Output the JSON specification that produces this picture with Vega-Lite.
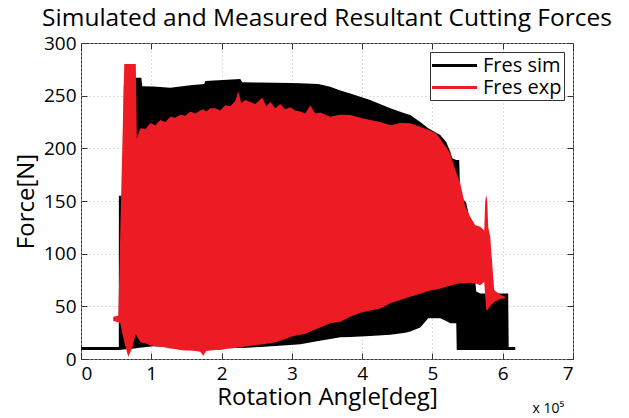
{
  "$schema": "https://vega.github.io/schema/vega-lite/v6.json",
  "autosize": {"type": "none"},
  "padding": {"left": 81, "top": 43, "right": 56, "bottom": 59},
  "width": 492,
  "height": 316,
  "background": "white",
  "title": {"text": "Simulated and Measured Resultant Cutting Forces", "font": "Open Sans", "fontSize": 24.5, "fontWeight": "normal", "color": "black", "anchor": "middle", "frame": "group", "baseline": "alphabetic", "offset": 16, "dy": 32},
  "config": {
    "view": {"stroke": "#333", "strokeWidth": 1},
    "axis": {"labelFont": "Open Sans", "titleFont": "Open Sans", "labelColor": "black", "titleColor": "black", "titleFontWeight": "normal", "domain": false, "tickColor": "#333", "grid": true, "gridColor": "#bbbbbb", "gridDash": [1, 3], "gridWidth": 1}
  },
  "data": {"values": [
    {"series": "Fres sim", "angle": 0, "lo": 8.5, "hi": 11.5},
    {"series": "Fres sim", "angle": 53800, "lo": 8.5, "hi": 11.5},
    {"series": "Fres sim", "angle": 53900, "lo": 8.5, "hi": 155},
    {"series": "Fres sim", "angle": 60200, "lo": 9, "hi": 155},
    {"series": "Fres sim", "angle": 60900, "lo": 9, "hi": 260},
    {"series": "Fres sim", "angle": 75800, "lo": 10, "hi": 267},
    {"series": "Fres sim", "angle": 85800, "lo": 11, "hi": 267},
    {"series": "Fres sim", "angle": 87200, "lo": 11, "hi": 259},
    {"series": "Fres sim", "angle": 102800, "lo": 12, "hi": 258.6},
    {"series": "Fres sim", "angle": 127000, "lo": 11.5, "hi": 257.6},
    {"series": "Fres sim", "angle": 155500, "lo": 11, "hi": 260},
    {"series": "Fres sim", "angle": 175400, "lo": 11, "hi": 261},
    {"series": "Fres sim", "angle": 176800, "lo": 11, "hi": 264},
    {"series": "Fres sim", "angle": 226600, "lo": 10.5, "hi": 265.8},
    {"series": "Fres sim", "angle": 229500, "lo": 10.5, "hi": 262.7},
    {"series": "Fres sim", "angle": 255100, "lo": 11.5, "hi": 262.5},
    {"series": "Fres sim", "angle": 297700, "lo": 13.3, "hi": 262},
    {"series": "Fres sim", "angle": 312000, "lo": 14, "hi": 261.7},
    {"series": "Fres sim", "angle": 337600, "lo": 17, "hi": 261},
    {"series": "Fres sim", "angle": 354600, "lo": 19, "hi": 258.5},
    {"series": "Fres sim", "angle": 368900, "lo": 20.6, "hi": 255},
    {"series": "Fres sim", "angle": 383100, "lo": 21, "hi": 252},
    {"series": "Fres sim", "angle": 411500, "lo": 21.8, "hi": 246},
    {"series": "Fres sim", "angle": 440000, "lo": 23, "hi": 238},
    {"series": "Fres sim", "angle": 461300, "lo": 25, "hi": 233},
    {"series": "Fres sim", "angle": 468400, "lo": 26, "hi": 231.6},
    {"series": "Fres sim", "angle": 482700, "lo": 30, "hi": 225},
    {"series": "Fres sim", "angle": 494000, "lo": 38.6, "hi": 219},
    {"series": "Fres sim", "angle": 511100, "lo": 38.6, "hi": 212.7},
    {"series": "Fres sim", "angle": 519600, "lo": 36, "hi": 206},
    {"series": "Fres sim", "angle": 525300, "lo": 34, "hi": 197},
    {"series": "Fres sim", "angle": 528200, "lo": 34, "hi": 190.5},
    {"series": "Fres sim", "angle": 533900, "lo": 34, "hi": 189},
    {"series": "Fres sim", "angle": 534600, "lo": 8.5, "hi": 189},
    {"series": "Fres sim", "angle": 538100, "lo": 8.5, "hi": 189},
    {"series": "Fres sim", "angle": 539500, "lo": 8.5, "hi": 155.7},
    {"series": "Fres sim", "angle": 548100, "lo": 8.5, "hi": 148},
    {"series": "Fres sim", "angle": 553800, "lo": 8.5, "hi": 130},
    {"series": "Fres sim", "angle": 562300, "lo": 8.5, "hi": 64},
    {"series": "Fres sim", "angle": 568000, "lo": 8.5, "hi": 62.3},
    {"series": "Fres sim", "angle": 607800, "lo": 8.5, "hi": 62.3},
    {"series": "Fres sim", "angle": 608500, "lo": 8.5, "hi": 11.5},
    {"series": "Fres sim", "angle": 617800, "lo": 8.5, "hi": 11.5},
    {"series": "Fres exp", "angle": 45900, "lo": 36, "hi": 40},
    {"series": "Fres exp", "angle": 53100, "lo": 35, "hi": 41},
    {"series": "Fres exp", "angle": 55900, "lo": 34, "hi": 121},
    {"series": "Fres exp", "angle": 61600, "lo": 16, "hi": 280},
    {"series": "Fres exp", "angle": 67300, "lo": 2, "hi": 280},
    {"series": "Fres exp", "angle": 73000, "lo": 11, "hi": 280},
    {"series": "Fres exp", "angle": 78000, "lo": 24, "hi": 280},
    {"series": "Fres exp", "angle": 79400, "lo": 22, "hi": 209},
    {"series": "Fres exp", "angle": 84400, "lo": 16, "hi": 219},
    {"series": "Fres exp", "angle": 91500, "lo": 15, "hi": 218},
    {"series": "Fres exp", "angle": 98600, "lo": 13, "hi": 224},
    {"series": "Fres exp", "angle": 105700, "lo": 12, "hi": 222},
    {"series": "Fres exp", "angle": 112800, "lo": 11.7, "hi": 227},
    {"series": "Fres exp", "angle": 119900, "lo": 11, "hi": 225},
    {"series": "Fres exp", "angle": 127000, "lo": 10, "hi": 230},
    {"series": "Fres exp", "angle": 134100, "lo": 9.5, "hi": 229},
    {"series": "Fres exp", "angle": 141300, "lo": 8.5, "hi": 232},
    {"series": "Fres exp", "angle": 148400, "lo": 8, "hi": 231},
    {"series": "Fres exp", "angle": 155500, "lo": 8, "hi": 235},
    {"series": "Fres exp", "angle": 162600, "lo": 7.5, "hi": 233},
    {"series": "Fres exp", "angle": 169700, "lo": 7, "hi": 236},
    {"series": "Fres exp", "angle": 174000, "lo": 3, "hi": 237},
    {"series": "Fres exp", "angle": 178200, "lo": 7.5, "hi": 235},
    {"series": "Fres exp", "angle": 183900, "lo": 8, "hi": 238},
    {"series": "Fres exp", "angle": 191000, "lo": 8.5, "hi": 238},
    {"series": "Fres exp", "angle": 198200, "lo": 8.5, "hi": 236},
    {"series": "Fres exp", "angle": 205300, "lo": 9.5, "hi": 241},
    {"series": "Fres exp", "angle": 212400, "lo": 10, "hi": 240},
    {"series": "Fres exp", "angle": 219500, "lo": 10.5, "hi": 245},
    {"series": "Fres exp", "angle": 223800, "lo": 11, "hi": 254},
    {"series": "Fres exp", "angle": 228000, "lo": 11, "hi": 243},
    {"series": "Fres exp", "angle": 233700, "lo": 12, "hi": 246},
    {"series": "Fres exp", "angle": 240800, "lo": 12.5, "hi": 244},
    {"series": "Fres exp", "angle": 247900, "lo": 13, "hi": 242},
    {"series": "Fres exp", "angle": 257900, "lo": 14, "hi": 248},
    {"series": "Fres exp", "angle": 263600, "lo": 14.5, "hi": 240},
    {"series": "Fres exp", "angle": 269300, "lo": 15, "hi": 244},
    {"series": "Fres exp", "angle": 276400, "lo": 16, "hi": 238},
    {"series": "Fres exp", "angle": 283500, "lo": 17.4, "hi": 242},
    {"series": "Fres exp", "angle": 290600, "lo": 19, "hi": 237},
    {"series": "Fres exp", "angle": 297700, "lo": 21, "hi": 239},
    {"series": "Fres exp", "angle": 304800, "lo": 22, "hi": 236},
    {"series": "Fres exp", "angle": 312000, "lo": 23, "hi": 235},
    {"series": "Fres exp", "angle": 319100, "lo": 24, "hi": 233},
    {"series": "Fres exp", "angle": 326200, "lo": 26, "hi": 241},
    {"series": "Fres exp", "angle": 333300, "lo": 28, "hi": 233},
    {"series": "Fres exp", "angle": 340400, "lo": 30, "hi": 234},
    {"series": "Fres exp", "angle": 354600, "lo": 34, "hi": 230},
    {"series": "Fres exp", "angle": 368900, "lo": 35.4, "hi": 232},
    {"series": "Fres exp", "angle": 383100, "lo": 40, "hi": 231.6},
    {"series": "Fres exp", "angle": 397300, "lo": 44, "hi": 229},
    {"series": "Fres exp", "angle": 411500, "lo": 46, "hi": 227},
    {"series": "Fres exp", "angle": 425800, "lo": 48, "hi": 225},
    {"series": "Fres exp", "angle": 440000, "lo": 53, "hi": 222},
    {"series": "Fres exp", "angle": 454200, "lo": 56, "hi": 224},
    {"series": "Fres exp", "angle": 468400, "lo": 59, "hi": 223.7},
    {"series": "Fres exp", "angle": 482700, "lo": 62, "hi": 220.5},
    {"series": "Fres exp", "angle": 496900, "lo": 65, "hi": 217},
    {"series": "Fres exp", "angle": 505400, "lo": 66, "hi": 214},
    {"series": "Fres exp", "angle": 511100, "lo": 67, "hi": 209},
    {"series": "Fres exp", "angle": 513900, "lo": 67.5, "hi": 206},
    {"series": "Fres exp", "angle": 519600, "lo": 68.5, "hi": 201},
    {"series": "Fres exp", "angle": 525300, "lo": 69.5, "hi": 195},
    {"series": "Fres exp", "angle": 532400, "lo": 71, "hi": 180},
    {"series": "Fres exp", "angle": 539500, "lo": 71.8, "hi": 167},
    {"series": "Fres exp", "angle": 546700, "lo": 72, "hi": 145},
    {"series": "Fres exp", "angle": 553800, "lo": 72.4, "hi": 135},
    {"series": "Fres exp", "angle": 560900, "lo": 72, "hi": 127},
    {"series": "Fres exp", "angle": 568000, "lo": 70, "hi": 125.6},
    {"series": "Fres exp", "angle": 573700, "lo": 73, "hi": 122},
    {"series": "Fres exp", "angle": 575100, "lo": 60, "hi": 150},
    {"series": "Fres exp", "angle": 576500, "lo": 47, "hi": 155.7},
    {"series": "Fres exp", "angle": 578000, "lo": 46, "hi": 150},
    {"series": "Fres exp", "angle": 579400, "lo": 48, "hi": 125},
    {"series": "Fres exp", "angle": 582200, "lo": 50, "hi": 116},
    {"series": "Fres exp", "angle": 587900, "lo": 54, "hi": 65.5},
    {"series": "Fres exp", "angle": 596500, "lo": 57, "hi": 61},
    {"series": "Fres exp", "angle": 603600, "lo": 58, "hi": 59}
  ]},
  "layer": [
    {
      "encoding": {
        "x": {"field": "angle", "type": "quantitative", "scale": {"domain": [0, 700000], "nice": false, "zero": false},
          "axis": {"orient": "bottom", "title": "Rotation Angle[deg]", "titleFontSize": 24, "labelFontSize": 19, "values": [0, 100000, 200000, 300000, 400000, 500000, 600000, 700000], "labelExpr": "format(datum.value / 100000, 'd')", "labelOverlap": false, "tickSize": -6, "labelPadding": 11, "titlePadding": 2}},
        "y": {"field": "hi", "type": "quantitative", "stack": null, "scale": {"domain": [0, 300], "nice": false},
          "axis": {"orient": "left", "title": "Force[N]", "titleFontSize": 24, "labelFontSize": 19, "values": [0, 50, 100, 150, 200, 250, 300], "labelOverlap": false, "tickSize": -6, "labelPadding": 11, "titlePadding": 5}},
        "y2": {"field": "lo"},
        "color": {"field": "series", "type": "nominal", "scale": {"domain": ["Fres sim", "Fres exp"], "range": ["#000000", "#ed1c24"]},
          "legend": {"title": null, "orient": "top-right", "offset": 9, "strokeColor": "#333", "fillColor": "white", "padding": 2, "symbolType": "M-2.25,0L2.25,0", "symbolSize": 400, "symbolOffset": 11, "labelOffset": 17, "symbolStrokeWidth": 3, "labelFontSize": 20, "labelFont": "Open Sans", "labelColor": "black", "rowPadding": -1,
            "encode": {"symbols": {"update": {"stroke": {"scale": "color", "field": "value"}, "strokeWidth": {"value": 3}}}}}}
      },
      "layer": [
        {"transform": [{"filter": "datum.series === 'Fres sim'"}], "mark": {"type": "area", "interpolate": "linear"}},
        {"transform": [{"filter": "datum.series === 'Fres exp'"}], "mark": {"type": "area", "interpolate": "linear"}}
      ]
    },
    {
      "transform": [{"filter": "datum.series === 'Fres sim'"}],
      "mark": {"type": "rule", "opacity": 0},
      "encoding": {
        "x": {"field": "angle", "type": "quantitative", "scale": {"domain": [0, 700000], "nice": false, "zero": false},
          "axis": {"orient": "top", "labels": false, "grid": false, "title": null, "tickSize": -6, "values": [0, 100000, 200000, 300000, 400000, 500000, 600000, 700000]}},
        "y": {"field": "lo", "type": "quantitative", "scale": {"domain": [0, 300], "nice": false},
          "axis": {"orient": "right", "labels": false, "grid": false, "tickSize": -6, "values": [0, 50, 100, 150, 200, 250, 300], "title": "x 10⁵", "titleFontSize": 14, "titleAngle": 0, "titleX": -41, "titleY": 369, "titleAlign": "left", "titleBaseline": "alphabetic", "titleAnchor": null}}
      }
    }
  ],
  "resolve": {"axis": {"x": "independent", "y": "independent"}, "scale": {"y": "independent"}}
}
